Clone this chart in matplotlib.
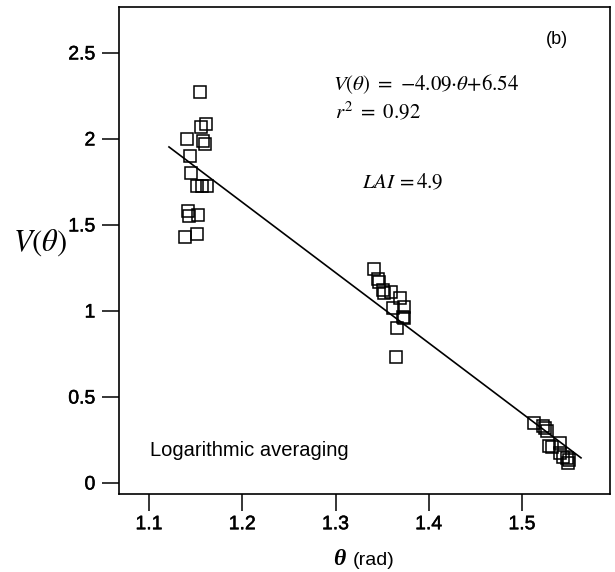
import matplotlib
matplotlib.use("Agg")
import matplotlib.pyplot as plt
import matplotlib.patheffects as pe
import numpy as np

plt.rcParams['mathtext.fontset'] = 'stix'
plt.rcParams['font.family'] = ['Liberation Sans', 'DejaVu Sans']

# Measured view angle (rad) and vegetation index V(theta)
theta = [
    1.1547, 1.1608, 1.1558, 1.1404, 1.1580, 1.1600, 1.1440, 1.1447,
    1.1510, 1.1565, 1.1620, 1.1415, 1.1430, 1.1530, 1.1386, 1.1510,
    1.3416, 1.3460, 1.3470, 1.3506, 1.3520, 1.3600, 1.3690, 1.3735,
    1.3620, 1.3720, 1.3735, 1.3660, 1.3650,
    1.5132, 1.5222, 1.5247, 1.5265, 1.5293, 1.5318, 1.5407, 1.5407,
    1.5443, 1.5480, 1.5507, 1.5497,
]
v_theta = [
    2.275, 2.087, 2.068, 2.000, 1.990, 1.971, 1.901, 1.800,
    1.727, 1.727, 1.727, 1.581, 1.552, 1.558, 1.432, 1.446,
    1.242, 1.184, 1.170, 1.122, 1.103, 1.112, 1.074, 1.025,
    1.016, 0.967, 0.958, 0.900, 0.734,
    0.347, 0.331, 0.318, 0.304, 0.215, 0.211, 0.231, 0.173,
    0.153, 0.144, 0.134, 0.115,
]

# Linear fit  V = slope * theta + intercept
slope, intercept = -4.09, 6.54
fit_range = [1.1214, 1.5633]

x_ticks = [1.1, 1.2, 1.3, 1.4, 1.5]
x_ticklabels = ["1.1", "1.2", "1.3", "1.4", "1.5"]
y_ticks = [0, 0.5, 1, 1.5, 2, 2.5]
y_ticklabels = ["0", "0.5", "1", "1.5", "2", "2.5"]

heavy = [pe.withStroke(linewidth=0.35, foreground='black')]

fig = plt.figure(figsize=(6.15, 5.72), dpi=100)
ax = fig.add_axes([119 / 615, 1 - 494 / 572, (610 - 119) / 615, (494 - 7) / 572])

ax.plot(theta, v_theta, linestyle='none', marker='s', markersize=9,
        markerfacecolor='none', markeredgecolor='black', markeredgewidth=1.1)

xf = np.array(fit_range)
ax.plot(xf, slope * xf + intercept, color='black', linewidth=1.2)

ax.set_xlim(1.0678, 1.5944)
ax.set_ylim(-0.064, 2.767)
ax.set_xticks(x_ticks)
ax.set_xticklabels(x_ticklabels)
ax.set_yticks(y_ticks)
ax.set_yticklabels(y_ticklabels)
ax.tick_params(direction='out', length=12, width=1.1, labelsize=14, pad=4, colors='black')
ax.tick_params(axis='y', pad=5)
for lbl in ax.get_xticklabels() + ax.get_yticklabels():
    lbl.set_path_effects(heavy)
for s in ax.spines.values():
    s.set_linewidth(1.2)

ax.text(1.2973, 2.285, r'$V(\theta)\ =\ {-}4.09{\cdot}\theta{+}6.54$',
        fontsize=15, va='baseline', ha='left')
ax.text(1.2990, 2.122, r'$r^2\ =\ 0.92$', fontsize=15, va='baseline', ha='left')
ax.text(1.3284, 1.715, r'$LAI\,{=}4.9$', fontsize=15, va='baseline', ha='left')
ax.text(1.5257, 2.552, '(b)', fontsize=13, va='baseline', ha='left')
ax.text(1.101, 0.157, 'Logarithmic averaging', fontsize=14.5, va='baseline', ha='left')

# Axis titles
fig.text(40 / 615, 1 - 243 / 572, r'$V(\theta)$', fontsize=22, ha='center', va='center')
fig.text(345 / 615, 1 - 565 / 572, 'θ', fontsize=17, ha='right', va='baseline',
         family='Liberation Serif', style='italic', fontweight='bold')
fig.text(353 / 615, 1 - 565 / 572, '(rad)', fontsize=14, ha='left', va='baseline')

fig.savefig('out.png', dpi=100)
